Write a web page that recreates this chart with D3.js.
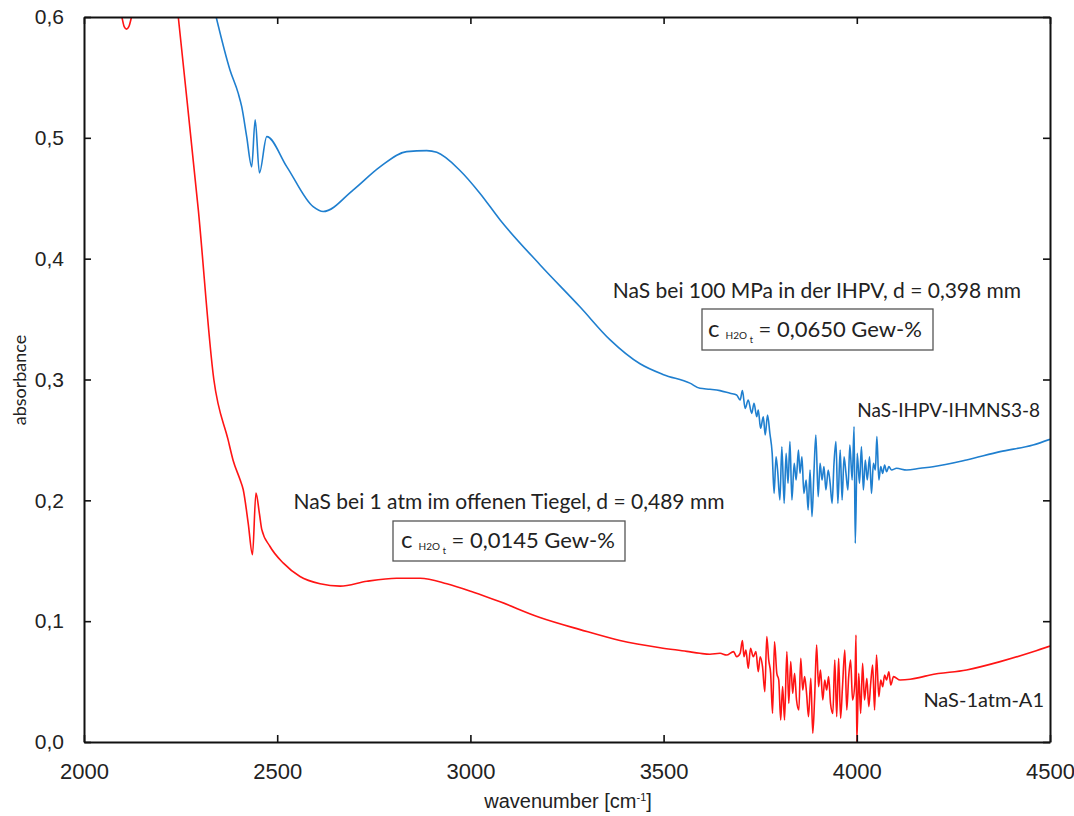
<!DOCTYPE html>
<html>
<head>
<meta charset="utf-8">
<script src="https://cdn.jsdelivr.net/npm/d3@7"></script>
<style>
  html, body { margin: 0; padding: 0; background: #fff; }
  svg { display: block; }
</style>
</head>
<body>
<svg id="chart" width="1074" height="816"></svg>
<script>
// ---------- data ----------
const xTicks = [2000, 2500, 3000, 3500, 4000, 4500];
const yTicks = [0.0, 0.1, 0.2, 0.3, 0.4, 0.5, 0.6];
const yTickLabels = ["0,0", "0,1", "0,2", "0,3", "0,4", "0,5", "0,6"];

const seriesNames = ["NaS-IHPV-IHMNS3-8", "NaS-1atm-A1"];

// NaS-IHPV-IHMNS3-8 (blue)
const blueWavenumber = [
  2342, 2378, 2399, 2408, 2421, 2434, 2443, 2454, 2473, 2525, 2593, 2619, 2697, 2766, 2835, 2887, 2913, 2973, 3025, 3077,
  3180, 3284, 3361, 3439, 3500, 3568,
  3594, 3620, 3646, 3672, 3689, 3698, 3704, 3711, 3719, 3728, 3734, 3741, 3745, 3751, 3758, 3763, 3769, 3775, 3781, 3786,
  3791, 3795, 3801, 3806, 3812, 3817, 3822, 3827, 3832, 3838, 3843, 3849, 3853, 3858, 3863, 3869, 3874, 3879, 3884, 3889,
  3894, 3900, 3905, 3910, 3915, 3920, 3926, 3931, 3936, 3941, 3946, 3951, 3957, 3962, 3967, 3972, 3977, 3982, 3988, 3993,
  3996, 4001, 4007, 4012, 4017, 4022, 4027, 4033, 4038, 4043, 4048, 4052, 4057, 4062, 4067, 4072, 4077, 4083, 4090, 4103,
  4129, 4164, 4197, 4284, 4371, 4456, 4500
];
const blueAbsorbance = [
  0.600, 0.556, 0.537, 0.526, 0.501, 0.476, 0.515, 0.471, 0.501, 0.476, 0.443, 0.439, 0.457, 0.476, 0.4886, 0.4894, 0.488, 0.473, 0.454, 0.432,
  0.395, 0.360, 0.333, 0.313, 0.304, 0.297,
  0.2927, 0.2919, 0.2908, 0.2886, 0.2872, 0.2830, 0.2908, 0.2761, 0.2830, 0.2720, 0.2803, 0.2692, 0.2748, 0.2596, 0.2692, 0.2541, 0.2706, 0.2555, 0.2389, 0.2058,
  0.2361, 0.2251, 0.2003, 0.2444, 0.1975, 0.2389, 0.2141, 0.2486, 0.2003, 0.2306, 0.2168, 0.2417, 0.2223, 0.2361, 0.2058, 0.2168, 0.1920, 0.2251, 0.1865, 0.2223,
  0.2541, 0.2030, 0.2306, 0.2168, 0.2279, 0.2086, 0.2251, 0.2141, 0.1975, 0.2306, 0.2486, 0.1975, 0.2417, 0.2003, 0.2361, 0.2223, 0.2086, 0.2458, 0.2168, 0.2610,
  0.1644, 0.2389, 0.2141, 0.2444, 0.2086, 0.2334, 0.2168, 0.2361, 0.2058, 0.2306, 0.2251, 0.2527, 0.2168, 0.2279, 0.2223, 0.2292, 0.2237, 0.2279, 0.2251, 0.2265,
  0.2251, 0.2265, 0.2278, 0.2334, 0.2403, 0.2458, 0.2505
];

// NaS-1atm-A1 (red)
const redWavenumber = [
  2000, 2060, 2090, 2098, 2104, 2110, 2116, 2123, 2140, 2200, 2230, 2244, 2296, 2336, 2373, 2386, 2404, 2412, 2425, 2436,
  2445, 2454, 2460, 2481, 2516, 2559, 2611, 2663, 2732, 2809, 2870, 2939, 3008, 3077, 3180, 3284, 3387, 3491, 3560,
  3594, 3620, 3646, 3663, 3681, 3689, 3698, 3704, 3708, 3713, 3719, 3725, 3732, 3739, 3745, 3750, 3756, 3762, 3767, 3772,
  3777, 3782, 3787, 3793, 3798, 3803, 3808, 3813, 3819, 3824, 3829, 3834, 3839, 3844, 3850, 3855, 3860, 3865, 3870, 3875,
  3881, 3886, 3891, 3896, 3901, 3906, 3912, 3917, 3922, 3927, 3932, 3938, 3943, 3948, 3953, 3958, 3963, 3969, 3974, 3979,
  3984, 3989, 3995, 3998, 4000, 4005, 4010, 4015, 4020, 4026, 4031, 4036, 4041, 4046, 4051, 4057, 4062, 4067, 4072, 4077,
  4083, 4088, 4095, 4112, 4138, 4164, 4190, 4284, 4371, 4456, 4500
];
const redAbsorbance = [
  0.640, 0.625, 0.612, 0.600, 0.592, 0.590, 0.592, 0.600, 0.625, 0.660, 0.645, 0.600, 0.440, 0.300, 0.250, 0.233, 0.217, 0.209, 0.181, 0.155,
  0.206, 0.189, 0.176, 0.162, 0.148, 0.137, 0.131, 0.129, 0.133, 0.1355, 0.1355, 0.131, 0.124, 0.116, 0.103, 0.093, 0.084, 0.078, 0.075,
  0.0734, 0.0726, 0.0734, 0.0720, 0.0748, 0.0706, 0.0734, 0.0839, 0.0706, 0.0761, 0.0610, 0.0775, 0.0706, 0.0748, 0.0582, 0.0706, 0.0623, 0.0417, 0.0872, 0.0679,
  0.0568, 0.0237, 0.0830, 0.0568, 0.0513, 0.0182, 0.0458, 0.0182, 0.0748, 0.0320, 0.0665, 0.0403, 0.0568, 0.0348, 0.0265, 0.0692, 0.0430, 0.0541, 0.0403, 0.0210,
  0.0527, 0.0072, 0.0375, 0.0803, 0.0458, 0.0596, 0.0348, 0.0513, 0.0430, 0.0541, 0.0320, 0.0237, 0.0679, 0.0210, 0.0692, 0.0196, 0.0458, 0.0761, 0.0265, 0.0541,
  0.0679, 0.0348, 0.0486, 0.0886, 0.0000, 0.0568, 0.0237, 0.0651, 0.0348, 0.0527, 0.0293, 0.0486, 0.0637, 0.0265, 0.0720, 0.0375, 0.0513, 0.0458, 0.0555, 0.0513,
  0.0582, 0.0472, 0.0541, 0.0513, 0.0519, 0.0535, 0.0555, 0.0596, 0.0665, 0.0747, 0.0794
];

// ---------- layout ----------
const svg = d3.select("#chart");
const W = 1074, H = 816;
const margin = { left: 84, top: 17, right: 24, bottom: 74 };
const iw = W - margin.left - margin.right;
const ih = H - margin.top - margin.bottom;

const x = d3.scaleLinear().domain([2000, 4500]).range([margin.left, margin.left + iw]);
const y = d3.scaleLinear().domain([0, 0.6]).range([margin.top + ih, margin.top]);

const tickFont = "'Liberation Sans Narrow', 'Liberation Sans', Arial, sans-serif";
const textFont = "Lato, 'Open Sans', sans-serif";

svg.append("defs").append("clipPath").attr("id", "plotclip")
  .append("rect").attr("x", margin.left).attr("y", margin.top).attr("width", iw).attr("height", ih);

const line = d3.line().x(d => x(d[0])).y(d => y(d[1])).curve(d3.curveMonotoneX);

const blueData = blueWavenumber.map((w, i) => [w, blueAbsorbance[i]]);
const redData = redWavenumber.map((w, i) => [w, redAbsorbance[i]]);

const plot = svg.append("g").attr("clip-path", "url(#plotclip)");
plot.append("path").datum(blueData).attr("d", line)
  .attr("fill", "none").attr("stroke", "#1f7fcf").attr("stroke-width", 1.6).attr("stroke-linejoin", "round");
plot.append("path").datum(redData).attr("d", line)
  .attr("fill", "none").attr("stroke", "#ff1414").attr("stroke-width", 1.6).attr("stroke-linejoin", "round");

// ---------- axes (ticks inward on all sides) ----------
const tickLen = 7;
const axBottom = svg.append("g").attr("transform", `translate(0,${margin.top + ih})`)
  .call(d3.axisBottom(x).tickValues(xTicks).tickSize(-tickLen).tickSizeOuter(0).tickPadding(21).tickFormat(d3.format("d")));
const axTop = svg.append("g").attr("transform", `translate(0,${margin.top})`)
  .call(d3.axisTop(x).tickValues(xTicks).tickSize(-tickLen).tickSizeOuter(0).tickFormat(""));
const axLeft = svg.append("g").attr("transform", `translate(${margin.left},0)`)
  .call(d3.axisLeft(y).tickValues(yTicks).tickSize(-tickLen).tickSizeOuter(0).tickPadding(20).tickFormat((d, i) => yTickLabels[i]));
const axRight = svg.append("g").attr("transform", `translate(${margin.left + iw},0)`)
  .call(d3.axisRight(y).tickValues(yTicks).tickSize(-tickLen).tickSizeOuter(0).tickFormat(""));

[axBottom, axTop, axLeft, axRight].forEach(g => {
  g.select(".domain").attr("stroke", "#111").attr("stroke-width", 2);
  g.selectAll(".tick line").attr("stroke", "#111").attr("stroke-width", 1.6);
  g.selectAll(".tick text").attr("fill", "#222").style("font-family", tickFont);
});
axBottom.selectAll(".tick text").style("font-size", "22px");
axLeft.selectAll(".tick text").style("font-size", "21px");

// ---------- axis titles ----------
const xt = svg.append("text").attr("x", 568).attr("y", 808).attr("text-anchor", "middle")
  .style("font-family", tickFont).style("font-size", "20px").attr("fill", "#222");
xt.append("tspan").text("wavenumber [cm");
xt.append("tspan").attr("dy", -7).style("font-size", "11px").text("-1");
xt.append("tspan").attr("dy", 7).text("]");

svg.append("text").attr("transform", "translate(26,380) rotate(-90)").attr("text-anchor", "middle")
  .style("font-family", textFont).style("font-size", "18px").attr("fill", "#222").text("absorbance");

// ---------- annotations ----------
function heading(cx, baseline, txt) {
  svg.append("text").attr("x", cx).attr("y", baseline).attr("text-anchor", "middle")
    .style("font-family", textFont).style("font-size", "21px").attr("fill", "#222").text(txt);
}
function concBox(bx, by, bw, bh, tx, baseline, value) {
  svg.append("rect").attr("x", bx).attr("y", by).attr("width", bw).attr("height", bh)
    .attr("fill", "#fff").attr("stroke", "#555").attr("stroke-width", 1.3);
  const t = svg.append("text").attr("x", tx).attr("y", baseline)
    .style("font-family", textFont).style("font-size", "22px").attr("fill", "#222");
  t.append("tspan").style("font-size", "24px").text("c ");
  t.append("tspan").attr("dy", 2).style("font-size", "10px").text("H2O ");
  t.append("tspan").attr("dy", 4).style("font-size", "9px").text("t");
  t.append("tspan").attr("dy", -6).text(" = " + value);
}

heading(817, 298, "NaS bei 100 MPa in der IHPV, d = 0,398 mm");
concBox(702, 309, 231, 41, 708, 337, "0,0650 Gew-%");
heading(509, 509, "NaS bei 1 atm im offenen Tiegel, d = 0,489 mm");
concBox(393, 521, 232, 40, 401, 548, "0,0145 Gew-%");

svg.append("text").attr("x", 1040).attr("y", 417).attr("text-anchor", "end")
  .style("font-family", textFont).style("font-size", "19px").attr("fill", "#222").text(seriesNames[0]);
svg.append("text").attr("x", 1044).attr("y", 707).attr("text-anchor", "end")
  .style("font-family", textFont).style("font-size", "20px").attr("fill", "#222").text(seriesNames[1]);
</script>
</body>
</html>
